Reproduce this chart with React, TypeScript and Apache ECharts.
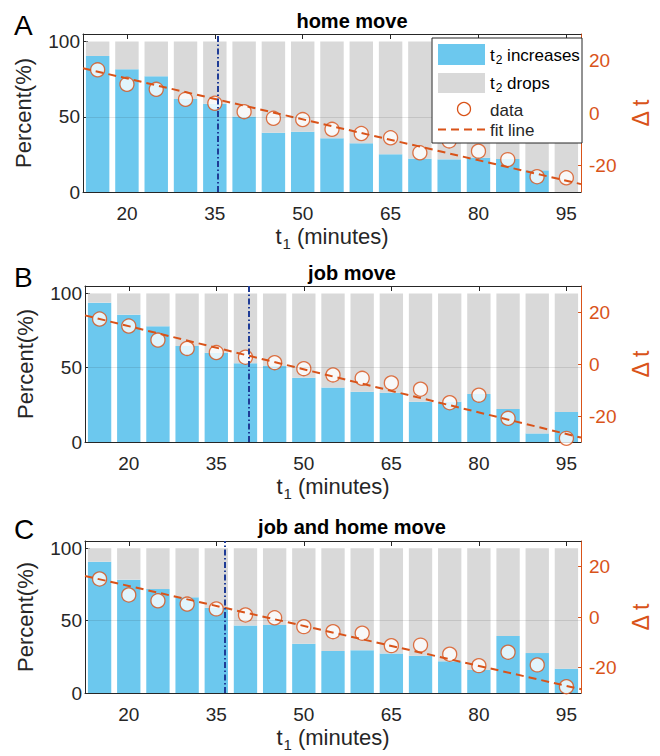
import React, { useEffect, useRef } from 'react';
import * as echarts from 'echarts';

// ---------- data ----------
const t1 = [15, 20, 25, 30, 35, 40, 45, 50, 55, 60, 65, 70, 75, 80, 85, 90, 95];
const xTicks = [20, 35, 50, 65, 80, 95];
const pctTicks = [0, 50, 100];
const dtTicks = [-20, 0, 20];

const panelLetters = ['A', 'B', 'C'];
const panelTitles = ['home move', 'job move', 'job and home move'];

// percent of cases where t2 increases
const increasesA = [90.4, 81.5, 76.9, 61.8, 58.7, 50.1, 39.4, 40.1, 35.7, 32.4, 25.1, 22.2, 21.7, 22.8, 21.9, 14.4, 0];
const increasesB = [93.8, 85.7, 77.9, 64.6, 60.1, 53.0, 51.2, 43.3, 36.6, 33.9, 33.2, 27.1, 27.1, 32.3, 22.2, 5.8, 20.2];
const increasesC = [90.7, 78.3, 71.8, 66.1, 58.9, 46.7, 47.0, 34.1, 29.0, 29.5, 27.2, 25.8, 21.9, 15.9, 39.4, 27.6, 16.8];

// delta t (right axis)
const deltaA = [16.4, 10.9, 9.0, 5.2, 3.7, 0.5, -2.0, -2.5, -6.2, -7.8, -9.4, -15.1, -10.6, -14.5, -17.7, -24.2, -24.6];
const deltaB = [17.3, 14.6, 9.2, 6.0, 4.4, 2.6, 0.5, -1.8, -4.2, -5.5, -7.3, -9.7, -14.9, -12.0, -20.9, null, -28.6];
const deltaC = [15.0, 8.7, 6.4, 5.1, 3.2, 0.8, -0.3, -3.8, -5.8, -6.4, -11.3, -11.1, -14.7, -19.2, -13.9, -18.9, -27.5];

// fit line end points [t1, delta t]
const fitA = [[12.5, 17.0], [97.5, -27.0]];
const fitB = [[12.5, 18.7], [97.5, -28.3]];
const fitC = [[12.5, 16.2], [97.5, -28.5]];

// dash-dot vertical marker (t1)
const thresholds = [35.5, 40.5, 36.5];

const xRange = [12.5, 97.5];
const pctRange = [0, 105];
const dtRange = [-30, 30];

// ---------- style ----------
const FONT = '"Liberation Sans", Arial, Helvetica, sans-serif';
const DARK = '#262626';
const ORANGE = '#D95319';
const BLUE = '#6CC8EE';
const GRAY = '#D9D9D9';
const NAVY = '#1F3C96';

const grids = [
  { left: 83, top: 34, width: 500, height: 158 },
  { left: 85, top: 286, width: 502, height: 156 },
  { left: 85, top: 541, width: 506, height: 152 },
];
const titleY = [21, 273, 527];
const letterY = [25, 277, 529];

const increases = [increasesA, increasesB, increasesC];
const deltas = [deltaA, deltaB, deltaC];
const fits = [fitA, fitB, fitC];

function buildOption() {
  const xAxis: any[] = [];
  const yAxis: any[] = [];
  const series: any[] = [];
  const graphic: any[] = [];

  grids.forEach((g, i) => {
    // visible value axis (bottom)
    xAxis.push({
      type: 'value', gridIndex: i, min: xRange[0], max: xRange[1], position: 'bottom',
      axisLine: { show: true, onZero: false, lineStyle: { color: DARK, width: 1 } },
      axisTick: { show: true, inside: true, length: 5, customValues: xTicks, lineStyle: { color: DARK } },
      axisLabel: { customValues: xTicks, fontSize: 19, color: DARK, margin: 12, fontFamily: FONT },
      splitLine: { show: false },
      name: '{a|t}{s|1}{a| (minutes)}', nameLocation: 'middle', nameGap: 30,
      nameTextStyle: {
        fontSize: 22, fontFamily: FONT, color: DARK,
        rich: {
          a: { fontSize: 22, fontFamily: FONT, color: DARK },
          s: { fontSize: 15, fontFamily: FONT, color: DARK, padding: [14, 0, 0, 1] },
        },
      },
    });
    // box top
    xAxis.push({
      type: 'value', gridIndex: i, min: xRange[0], max: xRange[1], position: 'top',
      axisLine: { show: true, onZero: false, lineStyle: { color: DARK, width: 1 } },
      axisTick: { show: true, inside: true, length: 5, customValues: xTicks, lineStyle: { color: DARK } },
      axisLabel: { show: false }, splitLine: { show: false },
    });
    // hidden category axis for the stacked bars (bands 12.5..97.5)
    xAxis.push({
      type: 'category', gridIndex: i, data: t1.map(String), position: 'bottom', boundaryGap: true,
      show: false,
    });
    yAxis.push({
      type: 'value', gridIndex: i, min: pctRange[0], max: pctRange[1], position: 'left',
      axisLine: { show: true, onZero: false, lineStyle: { color: DARK, width: 1 } },
      axisTick: { show: true, inside: true, length: 5, customValues: pctTicks, lineStyle: { color: DARK } },
      axisLabel: { customValues: pctTicks, fontSize: 19, color: DARK, margin: 3, fontFamily: FONT },
      splitLine: { show: false },
      name: 'Percent(%)', nameLocation: 'middle', nameRotate: 90, nameGap: 49,
      nameTextStyle: { fontSize: 22, fontFamily: FONT, color: DARK },
    });
    yAxis.push({
      type: 'value', gridIndex: i, min: dtRange[0], max: dtRange[1], position: 'right',
      axisLine: { show: true, onZero: false, lineStyle: { color: ORANGE, width: 1 } },
      axisTick: { show: true, inside: true, length: 5, customValues: dtTicks, lineStyle: { color: ORANGE } },
      axisLabel: { customValues: dtTicks, fontSize: 19, color: ORANGE, margin: 8, fontFamily: FONT },
      splitLine: { show: false },
      name: 'Δ t', nameLocation: 'middle', nameRotate: 90, nameGap: 48,
      nameTextStyle: { fontSize: 23, fontFamily: FONT, color: ORANGE },
    });

    const inc = increases[i];
    series.push({
      type: 'bar', name: 't2 increases', xAxisIndex: 3 * i + 2, yAxisIndex: 2 * i, stack: 'p' + i,
      barWidth: '80%', itemStyle: { color: BLUE }, z: 2,
      data: inc,
      markLine: {
        silent: true, symbol: ['none', 'none'], label: { show: false }, animation: false,
        data: [{ yAxis: 50, lineStyle: { color: 'rgba(38,38,38,0.12)', width: 1, type: 'solid' } }],
      },
    });
    series.push({
      type: 'bar', name: 't2 drops', xAxisIndex: 3 * i + 2, yAxisIndex: 2 * i, stack: 'p' + i,
      barWidth: '80%', itemStyle: { color: GRAY }, z: 2,
      data: inc.map((v) => 100 - v),
    });
    const dt = deltas[i];
    series.push({
      type: 'scatter', name: 'data', xAxisIndex: 3 * i, yAxisIndex: 2 * i + 1, z: 3,
      symbol: 'circle', symbolSize: 14,
      itemStyle: { color: '#FFFFFF', borderColor: ORANGE, borderWidth: 1.3 },
      data: t1.map((t, k) => [t, dt[k]]).filter((d) => d[1] !== null),
      markLine: {
        silent: true, symbol: ['none', 'none'], label: { show: false }, animation: false,
        data: [{ xAxis: thresholds[i], lineStyle: { color: NAVY, width: 2, type: [6, 2.5, 1.5, 2.5] } }],
      },
    });
    series.push({
      type: 'line', name: 'fit line', xAxisIndex: 3 * i, yAxisIndex: 2 * i + 1, z: 4,
      symbol: 'none', lineStyle: { color: ORANGE, width: 2, type: [8, 5] },
      data: fits[i],
    });

    graphic.push({
      type: 'text', x: 352, y: titleY[i], z: 10,
      style: { text: panelTitles[i], font: `bold 20px ${FONT}`, fill: '#000', align: 'center', verticalAlign: 'middle' },
    });
    graphic.push({
      type: 'text', x: 14, y: letterY[i], z: 10,
      style: { text: panelLetters[i], font: `28px ${FONT}`, fill: '#000', align: 'left', verticalAlign: 'middle' },
    });
  });

  // legend (panel A)
  const richLeg = {
    a: { fontSize: 17, fontFamily: FONT, color: DARK },
    s: { fontSize: 12, fontFamily: FONT, color: DARK, padding: [10, 0, 0, 1] },
  };
  graphic.push({
    type: 'group', z: 100,
    children: [
      { type: 'rect', z: 100, shape: { x: 432, y: 38, width: 150, height: 105 }, style: { fill: '#fff', stroke: DARK, lineWidth: 1 } },
      { type: 'rect', z: 101, shape: { x: 438, y: 44, width: 47, height: 21 }, style: { fill: BLUE } },
      { type: 'rect', z: 101, shape: { x: 438, y: 73, width: 47, height: 20 }, style: { fill: GRAY } },
      { type: 'circle', z: 101, shape: { cx: 464, cy: 109, r: 6.5 }, style: { fill: '#fff', stroke: ORANGE, lineWidth: 1.3 } },
      { type: 'line', z: 101, shape: { x1: 438, y1: 129.5, x2: 486, y2: 129.5 }, style: { stroke: ORANGE, lineWidth: 2, lineDash: [8, 5] } },
      { type: 'text', z: 101, x: 490, y: 55, style: { text: '{a|t}{s|2}{a| increases}', rich: richLeg, align: 'left', verticalAlign: 'middle' } },
      { type: 'text', z: 101, x: 490, y: 83, style: { text: '{a|t}{s|2}{a| drops}', rich: richLeg, align: 'left', verticalAlign: 'middle' } },
      { type: 'text', z: 101, x: 490, y: 110, style: { text: 'data', font: `17px ${FONT}`, fill: DARK, align: 'left', verticalAlign: 'middle' } },
      { type: 'text', z: 101, x: 490, y: 130, style: { text: 'fit line', font: `17px ${FONT}`, fill: DARK, align: 'left', verticalAlign: 'middle' } },
    ],
  });

  return {
    animation: false,
    backgroundColor: '#fff',
    textStyle: { fontFamily: FONT },
    grid: grids.map((g) => ({ ...g, containLabel: false })),
    xAxis, yAxis, series, graphic,
  };
}

export default function App() {
  const ref = useRef<HTMLDivElement>(null);
  useEffect(() => {
    if (!ref.current) return;
    const chart = echarts.init(ref.current, undefined, { renderer: 'svg' });
    chart.setOption(buildOption() as any);
    return () => chart.dispose();
  }, []);
  return <div ref={ref} style={{ position: 'absolute', left: 0, top: 0, width: 660, height: 756 }} />;
}
